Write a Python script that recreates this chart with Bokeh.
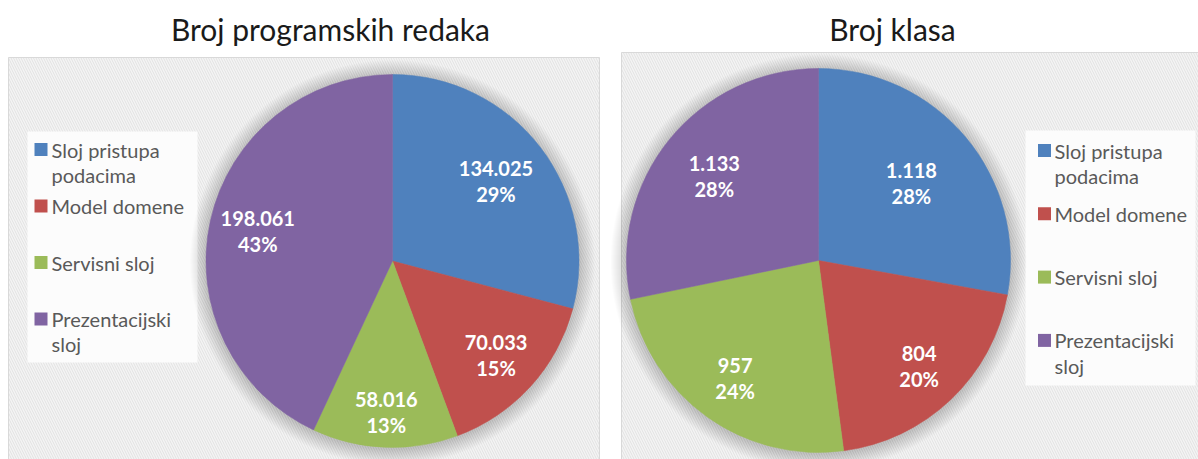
import numpy as np
from bokeh.plotting import figure
from bokeh.layouts import row
from bokeh.models import Range1d, ColumnDataSource
from bokeh.core.properties import value
from bokeh.embed import file_html
from bokeh.resources import INLINE

# ---------------- data ----------------
categories = ["Sloj pristupa podacima", "Model domene", "Servisni sloj", "Prezentacijski sloj"]
legend_labels = ["Sloj pristupa\npodacima", "Model domene", "Servisni sloj", "Prezentacijski\nsloj"]
colors = ["#4F81BD", "#C0504D", "#9BBB59", "#8064A2"]
lines_of_code = [134025, 70033, 58016, 198061]
class_counts = [1118, 804, 957, 1133]
titles = ["Broj programskih redaka", "Broj klasa"]

# ---------------- styles ----------------
H = 459
FONT = "Lato"


def Y(py):
    return H - py


def fmt(v):
    return f"{v:,}".replace(",", ".")


def make_panel(width, title, title_x, vals, cx, cy, r, panel_x0, panel_x1, panel_top,
               lbox, sq_x, txt_x, row_y0, row_dy, fracs):
    p = figure(width=width, height=H, output_backend="svg", toolbar_location=None,
               x_range=Range1d(0, width), y_range=Range1d(0, H),
               x_axis_type=None, y_axis_type=None, min_border=0,
               outline_line_color=None, background_fill_color="white",
               border_fill_color="white")
    p.grid.visible = False

    # panel background (hatched)
    p.quad(left=panel_x0, right=panel_x1, top=Y(panel_top), bottom=Y(H + 5),
           fill_color="#f4f4f4", line_color="#d9d9d9", line_width=1,
           hatch_pattern="\\", hatch_color="#e2e2e2", hatch_scale=5, hatch_weight=1)

    # legend background
    p.quad(left=lbox[0], right=lbox[1], top=Y(lbox[2]), bottom=Y(lbox[3]),
           fill_color="#fcfcfc", line_color=None)

    # soft shadow
    for k in range(16, 0, -1):
        p.circle(x=cx, y=Y(cy) - 1.5, radius=r + k, fill_color="black",
                 fill_alpha=0.011, line_color=None)

    vals = np.array(vals, dtype=float)
    frac = vals / vals.sum()
    cum = np.concatenate([[0], np.cumsum(frac)])
    start = np.pi / 2 - 2 * np.pi * cum[:-1]
    end = np.pi / 2 - 2 * np.pi * cum[1:]
    mid = (start + end) / 2
    rr = np.array(fracs) * r
    lx = cx + rr * np.cos(mid)
    ly = Y(cy) + rr * np.sin(mid)
    labels = [f"{fmt(int(v))}\n{round(f * 100)}%" for v, f in zip(vals, frac)]

    src = ColumnDataSource(dict(start=start, end=end, color=colors, lx=lx, ly=ly,
                                label=labels, cat=categories))
    p.wedge(x=cx, y=Y(cy), radius=r, start_angle="start", end_angle="end",
            direction="clock", fill_color="color", line_color="color", line_width=0.5,
            source=src)
    p.text(x="lx", y="ly", text="label", source=src, text_color="white",
           text_font=value(FONT), text_font_style="bold", text_font_size="20px",
           text_align="center", text_baseline="middle", text_line_height=1.09)

    # legend
    n = len(categories)
    ry = [Y(row_y0 + i * row_dy) for i in range(n)]
    lsrc = ColumnDataSource(dict(x=[sq_x] * n, tx=[txt_x] * n, y=ry, color=colors,
                                 label=legend_labels))
    p.rect(x="x", y="y", width=13, height=13, fill_color="color", line_color=None,
           source=lsrc)
    p.text(x="tx", y="y", text="label", source=lsrc, text_color="#595959",
           text_font=value(FONT), text_font_size="20px", text_align="left",
           text_baseline="top", text_line_height=1.05, y_offset=-12)

    # title
    p.text(x=[title_x], y=[Y(28)], text=[title], text_color="#1a1a1a",
           text_font=value(FONT), text_font_size="30px", text_align="center",
           text_baseline="middle")
    return p


left = make_panel(610, titles[0], 330, lines_of_code, 392, 260.5, 186.5,
                  8, 599, 57, (27, 197, 131, 362), 40.5, 51, 149, 56.5,
                  [0.70, 0.75, 0.81, 0.74])
right = make_panel(588, titles[1], 282, class_counts, 208, 260, 192,
                   11, 600, 52, (415, 585, 130, 385), 434, 444, 150, 63.3,
                   [0.63, 0.76, 0.75, 0.70])

layout = row(left, right, spacing=0)
open("out.html", "w").write(file_html(layout, INLINE))
